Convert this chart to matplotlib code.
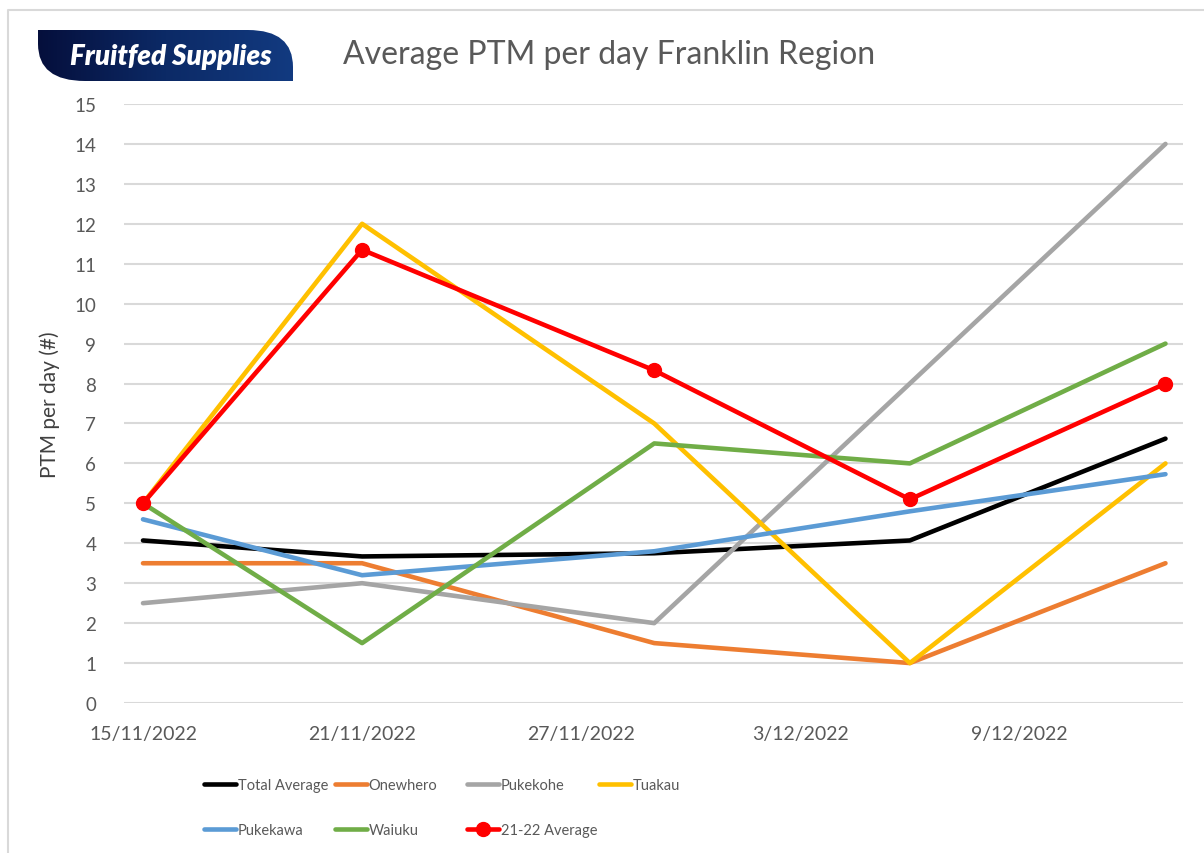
import datetime as dt
import numpy as np
import matplotlib
matplotlib.use('Agg')
import matplotlib.pyplot as plt
import matplotlib.dates as mdates
from matplotlib.path import Path
from matplotlib.patches import PathPatch
from matplotlib.colors import LinearSegmentedColormap

plt.rcParams['font.family'] = ['Lato', 'DejaVu Sans']

# data
dates = [dt.date(2022, 11, 15), dt.date(2022, 11, 21), dt.date(2022, 11, 29),
         dt.date(2022, 12, 6), dt.date(2022, 12, 13)]
total_average = [4.07, 3.67, 3.75, 4.07, 6.62]
onewhero = [3.5, 3.5, 1.5, 1.0, 3.5]
pukekohe = [2.5, 3.0, 2.0, 8.0, 14.0]
tuakau = [5.0, 12.0, 7.0, 1.0, 6.0]
pukekawa = [4.6, 3.2, 3.8, 4.8, 5.73]
waiuku = [5.0, 1.5, 6.5, 6.0, 9.0]
avg_21_22 = [5.0, 11.35, 8.33, 5.1, 8.0]

series_names = ['Total Average', 'Onewhero', 'Pukekohe', 'Tuakau',
                'Pukekawa', 'Waiuku', '21-22 Average']
series_values = [total_average, onewhero, pukekohe, tuakau,
                 pukekawa, waiuku, avg_21_22]
series_colors = ['#000000', '#ED7D31', '#A5A5A5', '#FFC000',
                 '#5B9BD5', '#70AD47', '#FF0000']

tick_dates = [dt.date(2022, 11, 15), dt.date(2022, 11, 21), dt.date(2022, 11, 27),
              dt.date(2022, 12, 3), dt.date(2022, 12, 9)]

W, H = 1204, 854
fig = plt.figure(figsize=(W / 100, H / 100), dpi=100)

# background axes in pixel coords for the border and the logo
bg = fig.add_axes([0, 0, 1, 1], zorder=0)
bg.axis('off')
bg.plot([8, 8, W], [H, 11, 11], color='#D9D9D9', lw=1.5)

# logo banner: square top-left / bottom-right, rounded the other two corners
x0, x1, y0, y1 = 38, 293, 31, 82
verts = [(x0, y0), (x0, 45), (x0, y1), (85, y1), (x1, y1), (x1, 68),
         (x1, y0), (248, y0), (x0, y0)]
codes = [Path.MOVETO, Path.LINETO, Path.CURVE3, Path.CURVE3, Path.LINETO,
         Path.LINETO, Path.CURVE3, Path.CURVE3, Path.CLOSEPOLY]
logo = PathPatch(Path(verts, codes), fc='none', ec='none')
bg.add_patch(logo)
grad = np.linspace(0, 1, 256).reshape(1, -1)
cm = LinearSegmentedColormap.from_list('navy', ['#050f3c', '#0c2a66', '#123a80'])
im = bg.imshow(grad, cmap=cm, extent=[x0, x1, y1, y0], aspect='auto')
im.set_clip_path(logo)
bg.set_xlim(0, W)
bg.set_ylim(H, 0)
bg.text(171, 57, 'Fruitfed Supplies', color='white', fontsize=20,
        fontweight='heavy', fontstyle='italic', ha='center', va='center')

bg.text(343, 55, 'Average PTM per day Franklin Region', color='#595959',
        fontsize=23, ha='left', va='center')

# main chart
ax = fig.add_axes([124 / W, 1 - 704 / H, (1183 - 124) / W, (704 - 105) / H], zorder=1)
ax.patch.set_alpha(0)
lines = []
for name, vals, col in zip(series_names, series_values, series_colors):
    if name == '21-22 Average':
        ln, = ax.plot(dates, vals, color=col, lw=3.3, marker='o', ms=10,
                      solid_capstyle='round', label=name)
    else:
        ln, = ax.plot(dates, vals, color=col, lw=3.3,
                      solid_capstyle='round', label=name)
    lines.append(ln)

ax.set_ylim(0, 15)
ax.set_yticks(range(0, 16))
ax.set_xlim(mdates.date2num(dates[0]) - 0.52, mdates.date2num(dates[-1]) + 0.48)
ax.set_xticks([mdates.date2num(d) for d in tick_dates])
ax.set_xticklabels([f'{d.day}/{d.month}/{d.year}' for d in tick_dates])
ax.grid(axis='y', color='#D9D9D9', lw=1.5)
ax.set_axisbelow(True)
for s in ax.spines.values():
    s.set_visible(False)
ax.tick_params(length=0, labelcolor='#595959')
ax.tick_params(axis='y', pad=20, labelsize=13.5)
ax.tick_params(axis='x', pad=16, labelsize=14)
ax.set_ylabel('PTM per day (#)', fontsize=15, color='#404040', labelpad=10)

# legend: one small legend per column so the columns sit where Excel put them
col_x = [197, 328, 460, 592]
for c in range(4):
    hs = lines[c::4]
    fig.legend(handles=hs, loc='upper left', bbox_to_anchor=(col_x[c] / W, 1 - 772 / H),
               frameon=False, handlelength=2.2, handletextpad=0.1,
               labelspacing=2.1, borderpad=0, labelcolor='#595959',
               prop={'size': 10.5})

fig.savefig('out.png', dpi=100)
